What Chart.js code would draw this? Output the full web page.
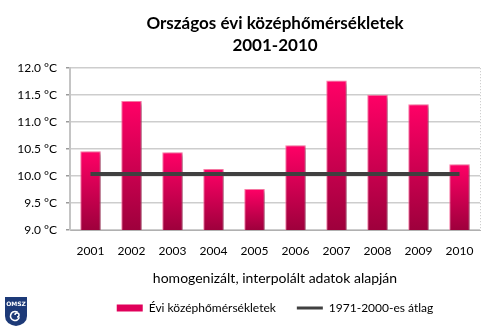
<!DOCTYPE html>
<html>
<head>
<meta charset="utf-8">
<script src="https://cdn.jsdelivr.net/npm/chart.js@4.4.1/dist/chart.umd.min.js"></script>
<style>
  html, body { margin: 0; padding: 0; background: #fff; }
  #wrap { width: 500px; height: 330px; }
</style>
</head>
<body>
<div id="wrap"><canvas id="c"></canvas></div>
<script>
const years = ['2001', '2002', '2003', '2004', '2005', '2006', '2007', '2008', '2009', '2010'];
const yearlyMean = [10.46, 11.39, 10.44, 10.13, 9.76, 10.57, 11.77, 11.51, 11.33, 10.22];
const normal = [10.04, 10.04, 10.04, 10.04, 10.04, 10.04, 10.04, 10.04, 10.04, 10.04];
const yTicks = [9.0, 9.5, 10.0, 10.5, 11.0, 11.5, 12.0];

const font = 'Lato';

// arnyek az oszlopok alatt
const shadow = {
  id: 'shadow',
  beforeDatasetDraw(chart, args) {
    if (args.meta.type !== 'bar') return;
    const ctx = chart.ctx;
    ctx.save();
    ctx.shadowColor = 'rgba(0,0,0,0.35)';
    ctx.shadowOffsetX = 3;
    ctx.shadowOffsetY = 2;
    ctx.shadowBlur = 4;
  },
  afterDatasetDraw(chart, args) {
    if (args.meta.type !== 'bar') return;
    chart.ctx.restore();
  }
};

// pontozott jobb szel + OMSZ logo
const extras = {
  id: 'extras',
  beforeDatasetsDraw(chart) {
    const { ctx, chartArea: a } = chart;
    ctx.save();
    ctx.strokeStyle = '#c4c4c4';
    ctx.lineWidth = 1;
    ctx.setLineDash([1, 2]);
    ctx.beginPath();
    ctx.moveTo(a.right + 0.5, a.top);
    ctx.lineTo(a.right + 0.5, a.bottom);
    ctx.stroke();
    ctx.restore();
  },
  afterDraw(chart) {
    const ctx = chart.ctx;
    ctx.save();
    ctx.fillStyle = '#1d3a78';
    ctx.beginPath();
    ctx.moveTo(5, 297);
    ctx.lineTo(27, 297);
    ctx.lineTo(27, 316);
    ctx.quadraticCurveTo(27, 324, 16, 326);
    ctx.quadraticCurveTo(5, 324, 5, 316);
    ctx.closePath();
    ctx.fill();
    ctx.fillStyle = '#fff';
    ctx.font = 'bold 6px "DejaVu Sans"';
    ctx.textAlign = 'center';
    ctx.fillText('OMSZ', 16, 304);
    ctx.strokeStyle = '#fff';
    ctx.lineWidth = 1.5;
    ctx.beginPath();
    ctx.arc(15, 316, 4.5, 0.3, Math.PI * 1.7);
    ctx.stroke();
    ctx.beginPath();
    ctx.arc(17, 315, 2, Math.PI, Math.PI * 2.5);
    ctx.stroke();
    ctx.restore();
  }
};

new Chart(document.getElementById('c'), {
  data: {
    labels: years,
    datasets: [{
      type: 'line',
      label: '1971-2000-es átlag',
      data: normal,
      borderColor: '#404040',
      borderWidth: 4,
      borderCapStyle: 'butt',
      pointRadius: 0,
      order: 0
    }, {
      type: 'bar',
      label: 'Évi középhőmérsékletek',
      data: yearlyMean,
      backgroundColor: (c) => {
        const chart = c.chart;
        const area = chart.chartArea;
        if (!area || c.raw === undefined) return '#e0005a';
        const top = chart.scales.y.getPixelForValue(c.raw);
        const g = chart.ctx.createLinearGradient(0, top, 0, area.bottom);
        g.addColorStop(0, '#ff0066');
        g.addColorStop(1, '#9e003c');
        return g;
      },
      borderColor: 'rgba(255,110,160,0.9)',
      borderWidth: { top: 1, left: 1, right: 1, bottom: 0 },
      barPercentage: 0.5,
      categoryPercentage: 1,
      order: 1
    }]
  },
  options: {
    responsive: true,
    maintainAspectRatio: false,
    animation: false,
    layout: { padding: { left: 0, right: 20, top: 0, bottom: 6 } },
    plugins: {
      title: {
        display: true,
        fullSize: false,
        text: ['Országos évi középhőmérsékletek', '2001-2010'],
        color: '#000',
        font: { family: font, size: 17, weight: 'bold', lineHeight: 1.3 },
        padding: { top: 12, bottom: 12 }
      },
      legend: {
        position: 'bottom',
        fullSize: false,
        labels: {
          color: '#000',
          font: { family: font, size: 12 },
          usePointStyle: true,
          pointStyleWidth: 26,
          boxHeight: 7,
          padding: 21,
          generateLabels: () => [
            { text: 'Évi középhőmérsékletek', fillStyle: '#e0005a', strokeStyle: '#e0005a', lineWidth: 0, pointStyle: 'rect', datasetIndex: 1 },
            { text: '1971-2000-es átlag', fillStyle: '#404040', strokeStyle: '#404040', lineWidth: 3, pointStyle: 'line', datasetIndex: 0 }
          ]
        }
      },
      tooltip: { enabled: false }
    },
    scales: {
      x: {
        afterFit: (s) => { s.height = 51; },
        grid: { display: false, drawTicks: false },
        border: { display: true, color: '#b0b0b0', width: 1 },
        ticks: { color: '#000', font: { family: font, size: 12 }, padding: 14 },
        title: {
          display: true,
          text: 'homogenizált, interpolált adatok alapján',
          color: '#000',
          font: { family: font, size: 14 },
          padding: { top: 0, bottom: -5.4 }
        }
      },
      y: {
        min: 9,
        max: 12,
        afterFit: (s) => { s.width = 70; },
        afterBuildTicks: (s) => { s.ticks = yTicks.map(v => ({ value: v })); },
        grid: { color: '#cdcdcd', lineWidth: 1.5, tickLength: 4, tickColor: '#9a9a9a' },
        border: { display: true, color: '#c4c4c4', width: 2 },
        ticks: {
          color: '#000',
          font: { family: font, size: 12 },
          padding: 9,
          callback: (v) => v.toFixed(1) + ' °C'
        }
      }
    }
  },
  plugins: [shadow, extras]
});
</script>
</body>
</html>
